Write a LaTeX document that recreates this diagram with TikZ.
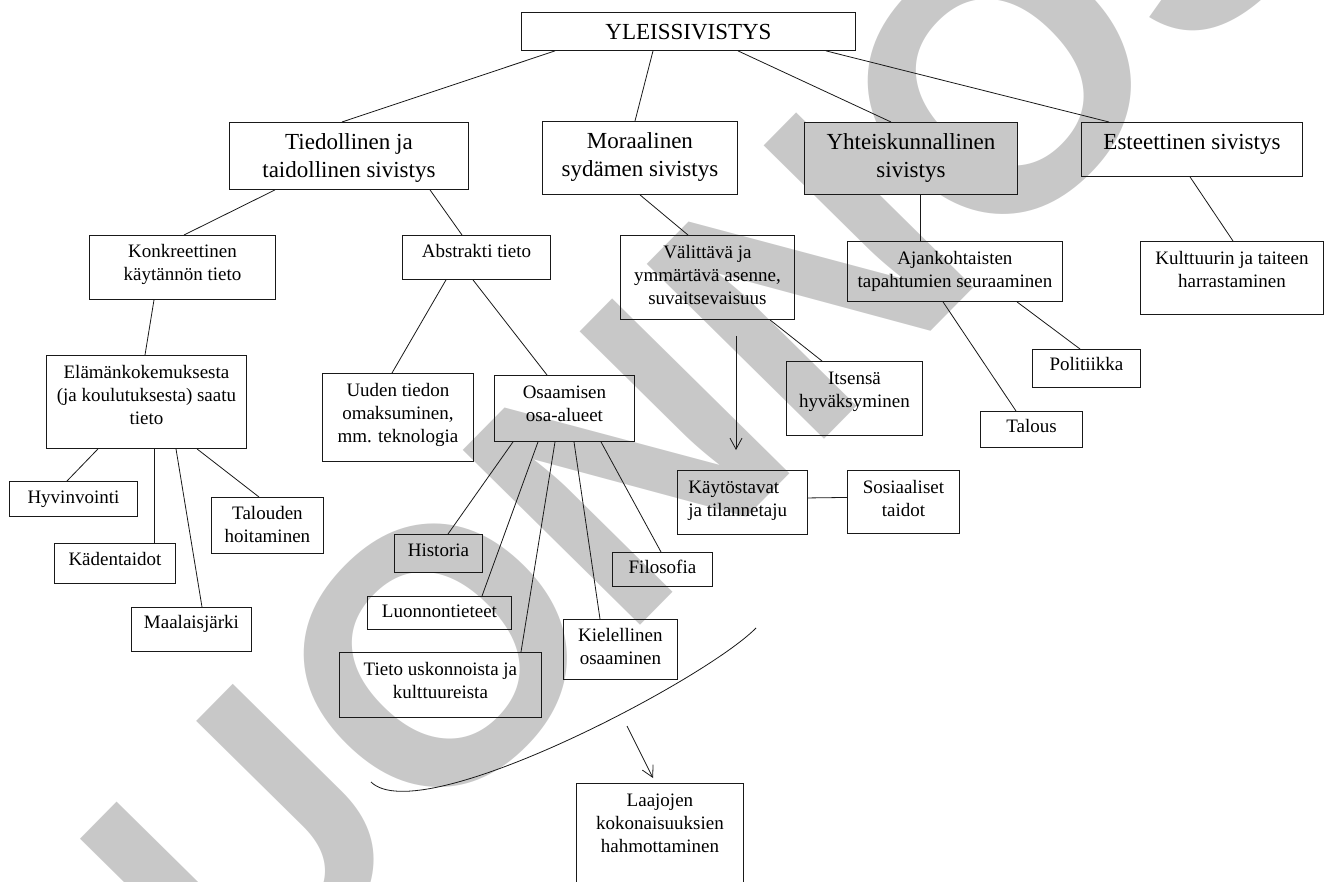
\documentclass[tikz,border=0pt]{standalone}
\usepackage{fontspec}
\setmainfont{Liberation Serif}
\newfontfamily\wmfam{Liberation Sans}
\usetikzlibrary{arrows.meta}
\definecolor{wmgray}{RGB}{200,200,200}
\definecolor{ink}{RGB}{25,25,25}
\newcommand{\bigf}{\fontsize{23}{27.5}\selectfont}
\newcommand{\smf}{\fontsize{19}{23}\selectfont}
\newcommand{\bt}[4]{\parbox[c][#2pt][t]{#1pt}{\centering\vspace*{#3pt}\strut #4\par}}
\begin{document}
\begin{tikzpicture}[x=1pt,y=-1pt,
  box/.style={draw=ink, line width=0.9pt, inner sep=0pt, anchor=north west},
  bbox/.style={box, font=\bigf},
  sbox/.style={box, font=\smf},
  edge/.style={draw=ink, line width=0.8pt},
  arr/.style={edge, -{Straight Barb[length=11pt,width=12pt,line width=0.8pt]}}]
\useasboundingbox (0,0) rectangle (1330,882);
\clip (0,0) rectangle (1330,882);
% watermark
\node[rotate=45.4, inner sep=0pt, text=wmgray, font=\wmfam\bfseries\fontsize{362}{362}\selectfont] (wm) at (634,455) {LUONNOS};
% level 0/1
\node[bbox] (yle)  at (521,12)  {\bt{334}{38}{7.5}{YLEISSIVISTYS}};
\node[bbox] (tied) at (229,122) {\bt{239}{67}{8}{Tiedollinen ja\\taidollinen sivistys}};
\node[bbox] (mora) at (542,121) {\bt{195}{73}{8}{Moraalinen\\sydämen sivistys}};
\node[bbox, fill=wmgray] (yht)  at (804,122) {\bt{213}{72}{8}{Yhteiskunnallinen\\sivistys}};
\node[bbox] (est)  at (1081,122){\bt{221}{54}{8}{Esteettinen sivistys}};
% left branch
\node[sbox] (konk) at (89,235)  {\bt{186}{64}{6}{Konkreettinen\\käytännön tieto}};
\node[sbox] (elam) at (46,355)  {\bt{200}{93}{6.5}{Elämänkokemuksesta\\(ja koulutuksesta) saatu\\tieto}};
\node[sbox] (hyv)  at (9,481)   {\bt{128}{35}{6}{Hyvinvointi}};
\node[sbox] (kad)  at (54,543)  {\bt{121}{40}{6}{Kädentaidot}};
\node[sbox] (maa)  at (131,607) {\bt{120}{44}{5}{Maalaisjärki}};
\node[sbox] (tal)  at (211,497) {\bt{112}{56}{6}{Talouden\\hoitaminen}};
% abstract branch
\node[sbox] (abs)  at (402,235) {\bt{148}{44}{6}{Abstrakti tieto}};
\node[sbox] (uud)  at (322,373) {\bt{151}{88}{6.5}{Uuden tiedon\\omaksuminen,\\mm. teknologia}};
\node[sbox] (osa)  at (494,375) {\bt{140}{66}{6.5}{Osaamisen\\osa-alueet}};
\node[sbox] (his)  at (394,534) {\bt{88}{38}{5.5}{Historia}};
\node[sbox] (luo)  at (367,596) {\bt{144}{33}{5}{Luonnontieteet}};
\node[sbox] (tiet) at (339,652) {\bt{202}{65}{6.5}{Tieto uskonnoista ja\\kulttuureista}};
\node[sbox] (kiel) at (563,619) {\bt{114}{60}{6}{Kielellinen\\osaaminen}};
\node[sbox] (fil)  at (612,552) {\bt{100}{34}{5}{Filosofia}};
% moral branch
\node[sbox] (val)  at (620,235) {\bt{174}{84}{6.5}{Välittävä ja\\ymmärtävä asenne,\\suvaitsevaisuus}};
\node[sbox] (its)  at (786,361) {\bt{136}{74}{6.5}{Itsensä\\hyväksyminen}};
\node[sbox] (kay)  at (677,470) {\parbox[c][64pt][t]{130pt}{\raggedright\leftskip=11pt\vspace*{6.5pt}\strut Käytöstavat\\ja tilannetaju\par}};
\node[sbox] (sos)  at (847,470) {\bt{112}{63}{6.5}{Sosiaaliset\\taidot}};
% social branch
\node[sbox] (ajan) at (847,241) {\bt{215}{60}{6.5}{Ajankohtaisten\\tapahtumien seuraaminen}};
\node[sbox] (pol)  at (1032,349){\bt{108}{38}{5}{Politiikka}};
\node[sbox] (talo) at (980,411) {\bt{102}{36}{5}{Talous}};
% aesthetic branch
\node[sbox] (kul)  at (1140,241){\bt{183}{73}{6.5}{Kulttuurin ja taiteen\\harrastaminen}};
% bottom
\node[sbox] (laa)  at (576,783) {\bt{167}{112}{6.5}{Laajojen\\kokonaisuuksien\\hahmottaminen}};
% connectors
\draw[edge] ([xshift=34pt]yle.south west) -- ([xshift=113pt]tied.north west);
\draw[edge] ([xshift=132pt]yle.south west) -- ([xshift=93pt]mora.north west);
\draw[edge] ([xshift=217pt]yle.south west) -- ([xshift=87pt]yht.north west);
\draw[edge] ([xshift=305pt]yle.south west) -- ([xshift=28pt]est.north west);
\draw[edge] ([xshift=46pt]tied.south west) -- ([xshift=95pt]konk.north west);
\draw[edge] ([xshift=201pt]tied.south west) -- ([xshift=60pt]abs.north west);
\draw[edge] ([xshift=98pt]mora.south west) -- ([xshift=68pt]val.north west);
\draw[edge] ([xshift=116pt]yht.south west) -- ([xshift=73pt]ajan.north west);
\draw[edge] ([xshift=109pt]est.south west) -- ([xshift=93pt]kul.north west);
\draw[edge] ([xshift=65pt]konk.south west) -- ([xshift=99pt]elam.north west);
\draw[edge] ([xshift=52pt]elam.south west) -- ([xshift=58pt]hyv.north west);
\draw[edge] ([xshift=108pt]elam.south west) -- ([xshift=100pt]kad.north west);
\draw[edge] ([xshift=130pt]elam.south west) -- ([xshift=71pt]maa.north west);
\draw[edge] ([xshift=151pt]elam.south west) -- ([xshift=48pt]tal.north west);
\draw[edge] ([xshift=44pt]abs.south west) -- ([xshift=70pt]uud.north west);
\draw[edge] ([xshift=71pt]abs.south west) -- ([xshift=53pt]osa.north west);
\draw[edge] ([xshift=19pt]osa.south west) -- ([xshift=54pt]his.north west);
\draw[edge] ([xshift=44pt]osa.south west) -- ([xshift=115pt]luo.north west);
\draw[edge] ([xshift=61pt]osa.south west) -- ([xshift=182pt]tiet.north west);
\draw[edge] ([xshift=80pt]osa.south west) -- ([xshift=37pt]kiel.north west);
\draw[edge] ([xshift=107pt]osa.south west) -- ([xshift=49pt]fil.north west);
\draw[edge] ([xshift=150pt]val.south west) -- ([xshift=36pt]its.north west);
\draw[edge] ([yshift=4.5pt]kay.east) -- ([yshift=4.5pt]sos.west);
\draw[edge] ([xshift=96pt]ajan.south west) -- ([xshift=36pt]talo.north west);
\draw[edge] ([xshift=170pt]ajan.south west) -- ([xshift=48pt]pol.north west);
% arrows and brace curve
\coordinate (a1s) at (736,336);
\coordinate (a1e) at (736,450);
\draw[arr] (a1s) -- (a1e);
\coordinate (cs) at (371,782);
\coordinate (ce) at (756,628);
\draw[edge] (cs) .. controls (420,830) and (705,680) .. (ce);
\coordinate (a2s) at (627,726);
\coordinate (a2e) at (653,778);
\draw[arr] (a2s) -- (a2e);
\end{tikzpicture}
\end{document}
